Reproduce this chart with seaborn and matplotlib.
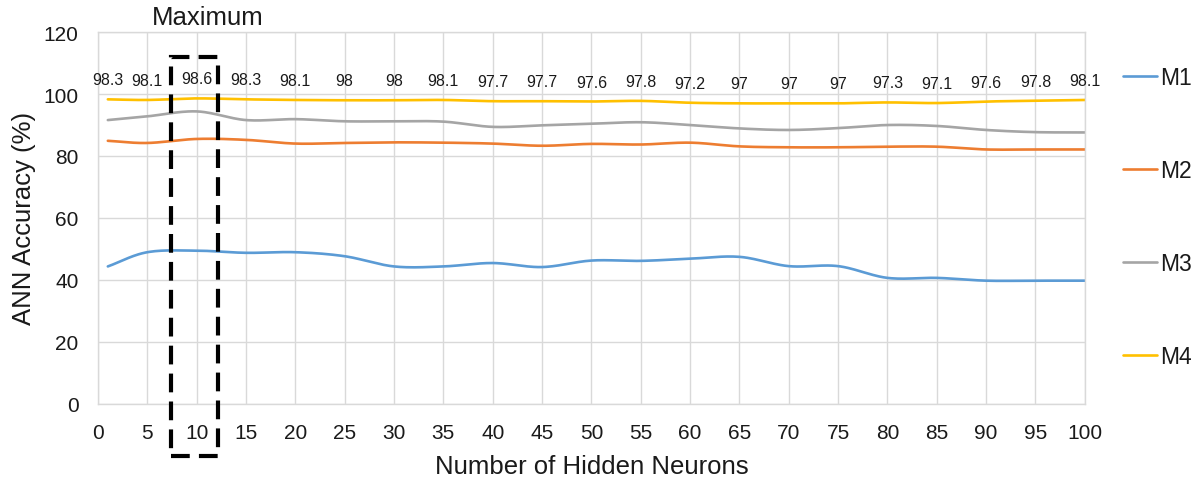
import numpy as np
import pandas as pd
import matplotlib
matplotlib.use("Agg")
import matplotlib.pyplot as plt
import seaborn as sns
from matplotlib.patches import Rectangle

# Hidden-neuron counts tested
neurons = [1, 5, 10, 15, 20, 25, 30, 35, 40, 45, 50,
           55, 60, 65, 70, 75, 80, 85, 90, 95, 100]

# ANN accuracy (%) for each model
m1 = [44.3, 48.9, 49.4, 48.7, 48.9, 47.6, 44.3, 44.3, 45.4, 44.1, 46.2,
      46.1, 46.8, 47.4, 44.4, 44.4, 40.6, 40.6, 39.7, 39.7, 39.7]
m2 = [84.9, 84.2, 85.5, 85.2, 84.0, 84.2, 84.4, 84.3, 84.0, 83.3, 83.9,
      83.7, 84.3, 83.1, 82.8, 82.8, 83.0, 83.0, 82.1, 82.1, 82.1]
m3 = [91.6, 92.8, 94.4, 91.6, 91.9, 91.2, 91.2, 91.1, 89.4, 89.9, 90.4,
      90.9, 90.0, 88.9, 88.4, 89.0, 90.0, 89.7, 88.4, 87.7, 87.6]
m4 = [98.3, 98.1, 98.6, 98.3, 98.1, 98, 98, 98.1, 97.7, 97.7, 97.6,
      97.8, 97.2, 97, 97, 97, 97.3, 97.1, 97.6, 97.8, 98.1]

model_names = ["M1", "M2", "M3", "M4"]
model_colors = ["#5B9BD5", "#ED7D31", "#A5A5A5", "#FFC000"]

# Best configuration highlighted by the dashed box
best_neurons = 10


def smooth_curve(x, y, steps=24):
    """Catmull-Rom curve through the points (smoothed-line rendering)."""
    x = np.asarray(x, float)
    y = np.asarray(y, float)
    px = np.concatenate([[2 * x[0] - x[1]], x, [2 * x[-1] - x[-2]]])
    py = np.concatenate([[2 * y[0] - y[1]], y, [2 * y[-1] - y[-2]]])
    t = np.linspace(0, 1, steps, endpoint=False)
    xs, ys = [], []
    for i in range(1, len(px) - 2):
        for arr, out in ((px, xs), (py, ys)):
            p0, p1, p2, p3 = arr[i - 1], arr[i], arr[i + 1], arr[i + 2]
            out.append(0.5 * ((2 * p1) + (-p0 + p2) * t
                              + (2 * p0 - 5 * p1 + 4 * p2 - p3) * t ** 2
                              + (-p0 + 3 * p1 - 3 * p2 + p3) * t ** 3))
    xs.append([x[-1]])
    ys.append([y[-1]])
    return np.concatenate(xs), np.concatenate(ys)


frames = []
for name, vals in zip(model_names, [m1, m2, m3, m4]):
    sx, sy = smooth_curve(neurons, vals)
    frames.append(pd.DataFrame({"Neurons": sx, "Accuracy": sy, "Model": name,
                                "step": np.arange(len(sx))}))
curves = pd.concat(frames, ignore_index=True)

sns.set_theme(style="white")
plt.rcParams["font.family"] = ["Liberation Sans", "DejaVu Sans"]
text_color = "#1a1a1a"
grid_color = "#D9D9D9"

fig = plt.figure(figsize=(12.02, 4.81), dpi=100)
ax = fig.add_axes([0.0815, 0.159, 0.821, 0.772])

sns.lineplot(data=curves, x="Neurons", y="Accuracy", hue="Model",
             hue_order=model_names, palette=model_colors, sort=False,
             estimator=None, linewidth=1.9, legend=False, ax=ax)

ax.set_xlim(0, 100)
ax.set_ylim(0, 120)
ax.set_xticks(np.arange(0, 101, 5))
ax.set_yticks(np.arange(0, 121, 20))
ax.grid(True, color=grid_color, linewidth=1.0)
ax.set_axisbelow(True)
for spine in ax.spines.values():
    spine.set_color(grid_color)
    spine.set_linewidth(1.0)
ax.tick_params(axis="both", length=0, labelsize=15, colors=text_color)
ax.tick_params(axis="x", pad=14)
ax.tick_params(axis="y", pad=14)

ax.set_xlabel("Number of Hidden Neurons", fontsize=18.5, color=text_color, labelpad=9)
ax.set_ylabel("ANN Accuracy (%)", fontsize=18.5, color=text_color, labelpad=5)

# Value labels for M4
for xv, yv in zip(neurons, m4):
    ax.annotate(f"{yv:g}", xy=(xv, yv), xytext=(0, 14), textcoords="offset points",
                ha="center", va="center", fontsize=11.5, color=text_color)

# Dashed box marking the maximum
ax.add_patch(Rectangle((best_neurons - 2.6, -16.8), 4.8, 128.8, fill=False,
                       edgecolor="black", linewidth=3.0, linestyle=(0, (4.5, 2.2)),
                       clip_on=False, zorder=5))
ax.text(best_neurons + 1.1, 125, "Maximum", ha="center", va="center",
        fontsize=18.5, color=text_color, clip_on=False)

handles = ax.get_lines()[:4]
fig.legend(handles, model_names, loc="upper left",
           bbox_to_anchor=(1112 / 1202, 1 - 56 / 481), frameon=False,
           fontsize=16.5, handlelength=1.45, handletextpad=0.15,
           labelspacing=3.05, borderpad=0, labelcolor=text_color)

fig.savefig("out.png", dpi=100)
